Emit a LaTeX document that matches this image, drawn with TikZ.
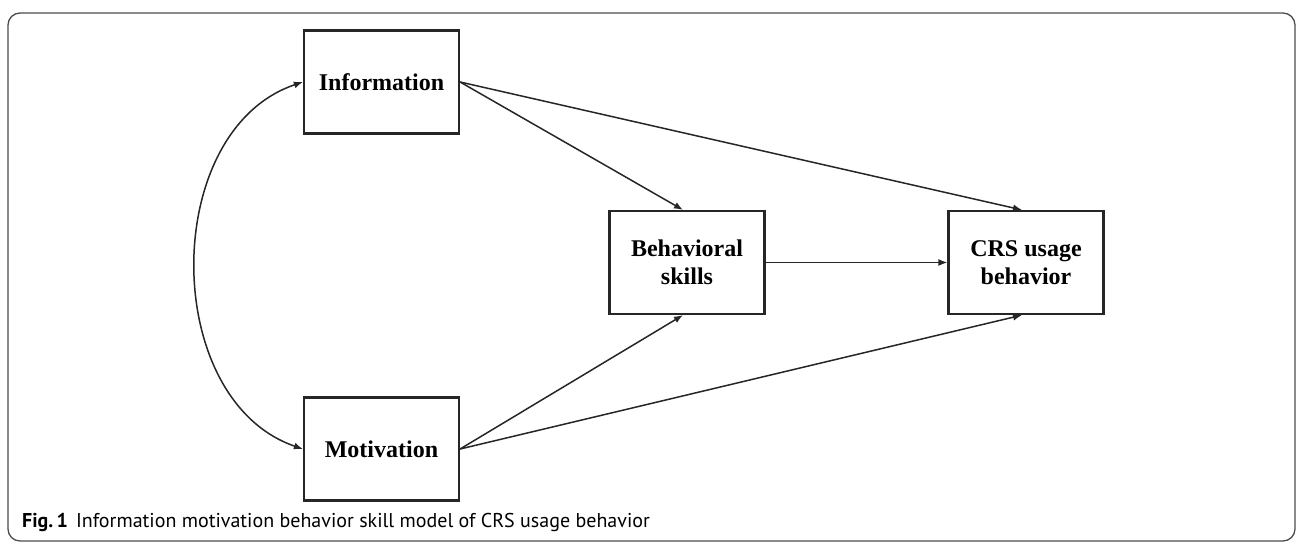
\documentclass[tikz,border=0pt]{standalone}
\usepackage{fontspec}
\setmainfont{Liberation Serif}
\newfontfamily\capfont{PT Sans}
\usetikzlibrary{arrows.meta}
\begin{document}
\begin{tikzpicture}[x=1pt,y=-1pt,
  tipx/.tip={Latex[length=9pt,width=7pt]},
  boxnode/.style={draw=black!85, line width=2.2pt, minimum width=155pt, minimum height=103pt, inner sep=0pt, align=center, font=\fontsize{24}{28}\selectfont\bfseries},
  conn/.style={draw=black!85, line width=1.5pt, -tipx},
  frame/.style={draw=black!70, line width=1.3pt, rounded corners=12pt}]
\useasboundingbox (0,0) rectangle (1296,544);
\draw[frame] (8,13) rectangle (1295,541);
\node[boxnode] (info) at (381.5,82) {Information};
\node[boxnode] (mot) at (381.5,449) {Motivation};
\node[boxnode] (beh) at (687,262.5) {Behavioral\\skills};
\node[boxnode] (crs) at (1026,262.5) {CRS usage\\behavior};
\coordinate (behT) at ([xshift=-4pt]beh.north);
\coordinate (behB) at ([xshift=-4pt]beh.south);
\coordinate (crsT) at ([xshift=-4pt]crs.north);
\coordinate (crsB) at ([xshift=-4pt]crs.south);
\draw[conn] (info.east) -- (behT);
\draw[conn] (info.east) -- (crsT);
\draw[conn] (mot.east) -- (behB);
\draw[conn] (mot.east) -- (crsB);
\draw[conn] (beh.east) -- (crs.west);
\draw[conn, tipx-tipx] (mot.west) .. controls (160,400) and (160,130) .. (info.west);
\node[anchor=base west, inner sep=0pt, font=\capfont\fontsize{20}{23}\selectfont] (cap) at (22,527) {\textbf{Fig.\,1}\hspace{8pt}Information motivation behavior skill model of CRS usage behavior};
\end{tikzpicture}
\end{document}
